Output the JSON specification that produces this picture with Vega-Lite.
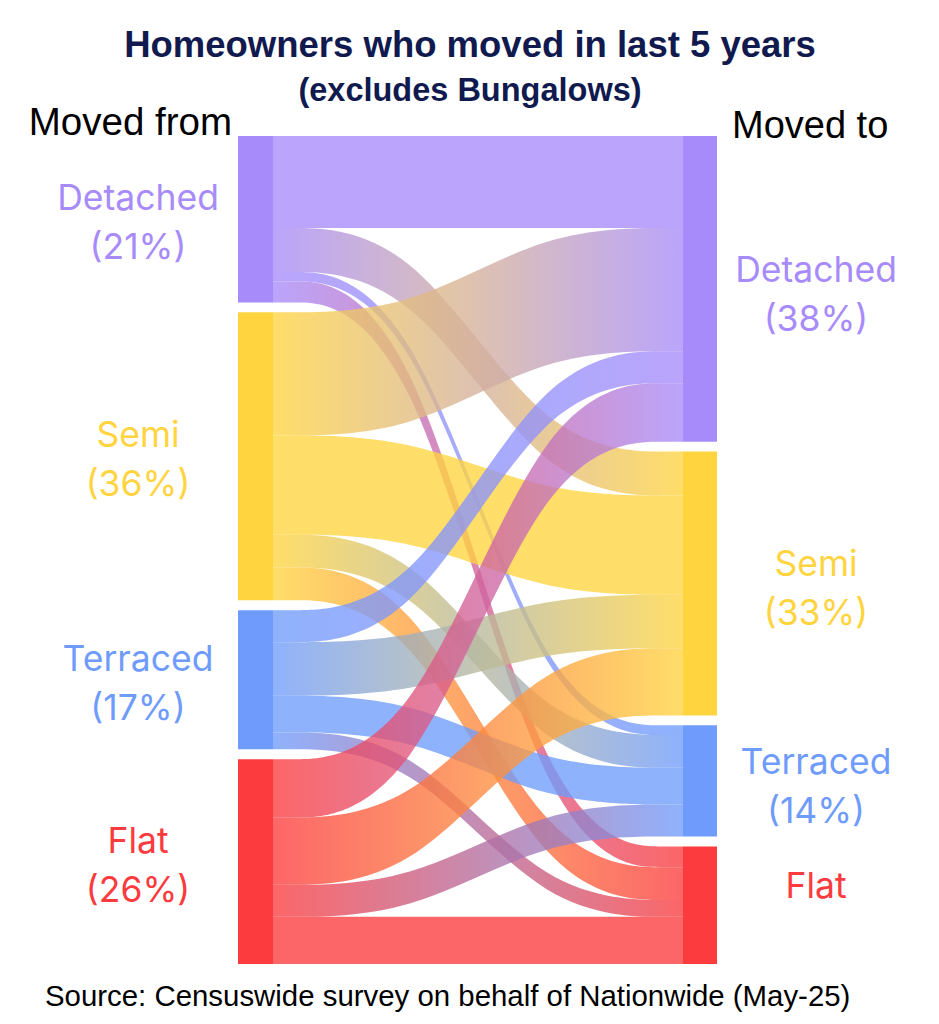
{
  "$schema": "https://vega.github.io/schema/vega-lite/v6.json",
  "width": 410,
  "height": 828,
  "autosize": {"type": "none"},
  "padding": {"left": 273, "top": 136, "right": 256, "bottom": 60},
  "background": "white",
  "config": {"view": {"stroke": null}},
  "title": {
    "text": "Homeowners who moved in last 5 years",
    "subtitle": "(excludes Bungalows)",
    "anchor": "middle",
    "frame": "group",
    "dx": -8,
    "offset": -3,
    "font": "Liberation Sans",
    "fontSize": 36.5,
    "fontWeight": "bold",
    "color": "#111a4f",
    "subtitleFont": "Liberation Sans",
    "subtitleFontSize": 32.5,
    "subtitleFontWeight": "bold",
    "subtitleColor": "#111a4f",
    "subtitlePadding": 10
  },
  "data": {
    "values": [
      {"source": "Detached", "target": "Detached", "value": 11.5},
      {"source": "Detached", "target": "Semi", "value": 5.5},
      {"source": "Detached", "target": "Terraced", "value": 1.2},
      {"source": "Detached", "target": "Flat", "value": 2.6},
      {"source": "Semi", "target": "Detached", "value": 15.4},
      {"source": "Semi", "target": "Semi", "value": 12.4},
      {"source": "Semi", "target": "Terraced", "value": 4.1},
      {"source": "Semi", "target": "Flat", "value": 4.1},
      {"source": "Terraced", "target": "Detached", "value": 4.0},
      {"source": "Terraced", "target": "Semi", "value": 6.7},
      {"source": "Terraced", "target": "Terraced", "value": 4.6},
      {"source": "Terraced", "target": "Flat", "value": 2.1},
      {"source": "Flat", "target": "Detached", "value": 7.3},
      {"source": "Flat", "target": "Semi", "value": 8.4},
      {"source": "Flat", "target": "Terraced", "value": 4.0},
      {"source": "Flat", "target": "Flat", "value": 5.9}
    ]
  },
  "transform": [
    {"calculate": "indexof(['Detached','Semi','Terraced','Flat'], datum.source)", "as": "si"},
    {"calculate": "indexof(['Detached','Semi','Terraced','Flat'], datum.target)", "as": "ti"},
    {"stack": "value", "groupby": [], "sort": [{"field": "si"}, {"field": "ti"}], "as": ["s0", "s1"]},
    {"stack": "value", "groupby": [], "sort": [{"field": "ti"}, {"field": "si"}], "as": ["t0", "t1"]},
    {"calculate": "[0,1,2,3]", "as": "stage"},
    {"flatten": ["stage"]},
    {"calculate": "datum.stage < 2 ? datum.s0 + datum.si * 1.23 : datum.t0 + datum.ti * 1.23", "as": "y0"},
    {"calculate": "datum.stage < 2 ? datum.s1 + datum.si * 1.23 : datum.t1 + datum.ti * 1.23", "as": "y1"}
  ],
  "layer": [
    {
      "encoding": {
        "x": {"field": "stage", "type": "quantitative", "scale": {"domain": [0, 3], "nice": false}, "axis": null},
        "y": {"field": "y0", "type": "quantitative", "scale": {"domain": [0, 103.49], "nice": false, "zero": false, "reverse": true}, "axis": null},
        "y2": {"field": "y1"}
      },
      "layer": [
        {"transform": [{"filter": "datum.source==='Detached' && datum.target==='Detached'"}], "mark": {"type": "area", "orient": "vertical", "interpolate": "basis", "fillOpacity": 0.78, "fill": {"gradient": "linear", "stops": [{"offset": 0, "color": "#a78bfa"}, {"offset": 1, "color": "#a78bfa"}]}}},
        {"transform": [{"filter": "datum.source==='Detached' && datum.target==='Semi'"}], "mark": {"type": "area", "orient": "vertical", "interpolate": "basis", "fillOpacity": 0.78, "fill": {"gradient": "linear", "stops": [{"offset": 0, "color": "#a78bfa"}, {"offset": 1, "color": "#ffd43f"}]}}},
        {"transform": [{"filter": "datum.source==='Detached' && datum.target==='Terraced'"}], "mark": {"type": "area", "orient": "vertical", "interpolate": "basis", "fillOpacity": 0.78, "fill": {"gradient": "linear", "stops": [{"offset": 0, "color": "#a78bfa"}, {"offset": 1, "color": "#6f9cfc"}]}}},
        {"transform": [{"filter": "datum.source==='Detached' && datum.target==='Flat'"}], "mark": {"type": "area", "orient": "vertical", "interpolate": "basis", "fillOpacity": 0.78, "fill": {"gradient": "linear", "stops": [{"offset": 0, "color": "#a78bfa"}, {"offset": 1, "color": "#fb3b3d"}]}}},
        {"transform": [{"filter": "datum.source==='Semi' && datum.target==='Detached'"}], "mark": {"type": "area", "orient": "vertical", "interpolate": "basis", "fillOpacity": 0.78, "fill": {"gradient": "linear", "stops": [{"offset": 0, "color": "#ffd43f"}, {"offset": 1, "color": "#a78bfa"}]}}},
        {"transform": [{"filter": "datum.source==='Semi' && datum.target==='Semi'"}], "mark": {"type": "area", "orient": "vertical", "interpolate": "basis", "fillOpacity": 0.78, "fill": {"gradient": "linear", "stops": [{"offset": 0, "color": "#ffd43f"}, {"offset": 1, "color": "#ffd43f"}]}}},
        {"transform": [{"filter": "datum.source==='Semi' && datum.target==='Terraced'"}], "mark": {"type": "area", "orient": "vertical", "interpolate": "basis", "fillOpacity": 0.78, "fill": {"gradient": "linear", "stops": [{"offset": 0, "color": "#ffd43f"}, {"offset": 1, "color": "#6f9cfc"}]}}},
        {"transform": [{"filter": "datum.source==='Semi' && datum.target==='Flat'"}], "mark": {"type": "area", "orient": "vertical", "interpolate": "basis", "fillOpacity": 0.78, "fill": {"gradient": "linear", "stops": [{"offset": 0, "color": "#ffd43f"}, {"offset": 1, "color": "#fb3b3d"}]}}},
        {"transform": [{"filter": "datum.source==='Terraced' && datum.target==='Detached'"}], "mark": {"type": "area", "orient": "vertical", "interpolate": "basis", "fillOpacity": 0.78, "fill": {"gradient": "linear", "stops": [{"offset": 0, "color": "#6f9cfc"}, {"offset": 1, "color": "#a78bfa"}]}}},
        {"transform": [{"filter": "datum.source==='Terraced' && datum.target==='Semi'"}], "mark": {"type": "area", "orient": "vertical", "interpolate": "basis", "fillOpacity": 0.78, "fill": {"gradient": "linear", "stops": [{"offset": 0, "color": "#6f9cfc"}, {"offset": 1, "color": "#ffd43f"}]}}},
        {"transform": [{"filter": "datum.source==='Terraced' && datum.target==='Terraced'"}], "mark": {"type": "area", "orient": "vertical", "interpolate": "basis", "fillOpacity": 0.78, "fill": {"gradient": "linear", "stops": [{"offset": 0, "color": "#6f9cfc"}, {"offset": 1, "color": "#6f9cfc"}]}}},
        {"transform": [{"filter": "datum.source==='Terraced' && datum.target==='Flat'"}], "mark": {"type": "area", "orient": "vertical", "interpolate": "basis", "fillOpacity": 0.78, "fill": {"gradient": "linear", "stops": [{"offset": 0, "color": "#6f9cfc"}, {"offset": 1, "color": "#fb3b3d"}]}}},
        {"transform": [{"filter": "datum.source==='Flat' && datum.target==='Detached'"}], "mark": {"type": "area", "orient": "vertical", "interpolate": "basis", "fillOpacity": 0.78, "fill": {"gradient": "linear", "stops": [{"offset": 0, "color": "#fb3b3d"}, {"offset": 1, "color": "#a78bfa"}]}}},
        {"transform": [{"filter": "datum.source==='Flat' && datum.target==='Semi'"}], "mark": {"type": "area", "orient": "vertical", "interpolate": "basis", "fillOpacity": 0.78, "fill": {"gradient": "linear", "stops": [{"offset": 0, "color": "#fb3b3d"}, {"offset": 1, "color": "#ffd43f"}]}}},
        {"transform": [{"filter": "datum.source==='Flat' && datum.target==='Terraced'"}], "mark": {"type": "area", "orient": "vertical", "interpolate": "basis", "fillOpacity": 0.78, "fill": {"gradient": "linear", "stops": [{"offset": 0, "color": "#fb3b3d"}, {"offset": 1, "color": "#6f9cfc"}]}}},
        {"transform": [{"filter": "datum.source==='Flat' && datum.target==='Flat'"}], "mark": {"type": "area", "orient": "vertical", "interpolate": "basis", "fillOpacity": 0.78, "fill": {"gradient": "linear", "stops": [{"offset": 0, "color": "#fb3b3d"}, {"offset": 1, "color": "#fb3b3d"}]}}}
      ]
    },
    {
      "transform": [
        {"filter": "datum.stage === 0"},
        {"aggregate": [{"op": "min", "field": "y0", "as": "top"}, {"op": "max", "field": "y1", "as": "bot"}], "groupby": ["source"]}
      ],
      "mark": {"type": "rule", "strokeWidth": 35, "xOffset": -17.5, "strokeCap": "butt"},
      "encoding": {
        "x": {"datum": 0, "type": "quantitative"},
        "y": {"field": "top", "type": "quantitative"},
        "y2": {"field": "bot"},
        "color": {"field": "source", "type": "nominal", "scale": {"domain": ["Detached", "Semi", "Terraced", "Flat"], "range": ["#a78bfa", "#ffd43f", "#6f9cfc", "#fb3b3d"]}, "legend": null}
      }
    },
    {
      "transform": [
        {"filter": "datum.stage === 3"},
        {"aggregate": [{"op": "min", "field": "y0", "as": "top"}, {"op": "max", "field": "y1", "as": "bot"}], "groupby": ["target"]}
      ],
      "mark": {"type": "rule", "strokeWidth": 34, "xOffset": 17, "strokeCap": "butt"},
      "encoding": {
        "x": {"datum": 3, "type": "quantitative"},
        "y": {"field": "top", "type": "quantitative"},
        "y2": {"field": "bot"},
        "color": {"field": "target", "type": "nominal", "legend": null}
      }
    },
    {
      "transform": [
        {"filter": "datum.stage === 0"},
        {"aggregate": [{"op": "min", "field": "y0", "as": "top"}, {"op": "max", "field": "y1", "as": "bot"}, {"op": "sum", "field": "value", "as": "total"}], "groupby": ["source"]},
        {"calculate": "(datum.top + datum.bot) / 2", "as": "mid"},
        {"calculate": "datum.source + '\\n(' + format(datum.total, '.0f') + '%)'", "as": "label"}
      ],
      "mark": {"type": "text", "dx": -135, "dy": -20, "align": "center", "baseline": "middle", "font": "Inter", "fontSize": 35.5, "lineHeight": 49, "lineBreak": "\n"},
      "encoding": {
        "x": {"datum": 0, "type": "quantitative"},
        "y": {"field": "mid", "type": "quantitative"},
        "text": {"field": "label"},
        "color": {"field": "source", "type": "nominal", "legend": null}
      }
    },
    {
      "transform": [
        {"filter": "datum.stage === 3"},
        {"aggregate": [{"op": "min", "field": "y0", "as": "top"}, {"op": "max", "field": "y1", "as": "bot"}, {"op": "sum", "field": "value", "as": "total"}], "groupby": ["target"]},
        {"calculate": "(datum.top + datum.bot) / 2", "as": "mid"},
        {"calculate": "datum.target === 'Flat' ? 'Flat' : datum.target + '\\n(' + format(datum.total, '.0f') + '%)'", "as": "label"}
      ],
      "mark": {"type": "text", "dx": 133, "dy": -18, "align": "center", "baseline": "middle", "font": "Inter", "fontSize": 35.5, "lineHeight": 49, "lineBreak": "\n"},
      "encoding": {
        "x": {"datum": 3, "type": "quantitative"},
        "y": {"field": "mid", "type": "quantitative"},
        "text": {"field": "label"},
        "color": {"field": "target", "type": "nominal", "legend": null}
      }
    },
    {
      "data": {"values": [{"t": "Moved from"}]},
      "mark": {"type": "text", "dx": -41, "dy": -1, "align": "right", "baseline": "alphabetic", "font": "Liberation Sans", "fontSize": 38.5, "color": "#000000"},
      "encoding": {
        "x": {"datum": 0, "type": "quantitative"},
        "y": {"datum": 0, "type": "quantitative"},
        "text": {"field": "t"}
      }
    },
    {
      "data": {"values": [{"t": "Moved to"}]},
      "mark": {"type": "text", "dx": 49, "dy": 2, "align": "left", "baseline": "alphabetic", "font": "Liberation Sans", "fontSize": 38, "color": "#000000"},
      "encoding": {
        "x": {"datum": 3, "type": "quantitative"},
        "y": {"datum": 0, "type": "quantitative"},
        "text": {"field": "t"}
      }
    },
    {
      "data": {"values": [{"t": "Source: Censuswide survey on behalf of Nationwide (May-25)"}]},
      "mark": {"type": "text", "dx": -228, "dy": 42, "align": "left", "baseline": "alphabetic", "font": "Liberation Sans", "fontSize": 29.4, "color": "#000000"},
      "encoding": {
        "x": {"datum": 0, "type": "quantitative"},
        "y": {"datum": 103.49, "type": "quantitative"},
        "text": {"field": "t"}
      }
    }
  ]
}
